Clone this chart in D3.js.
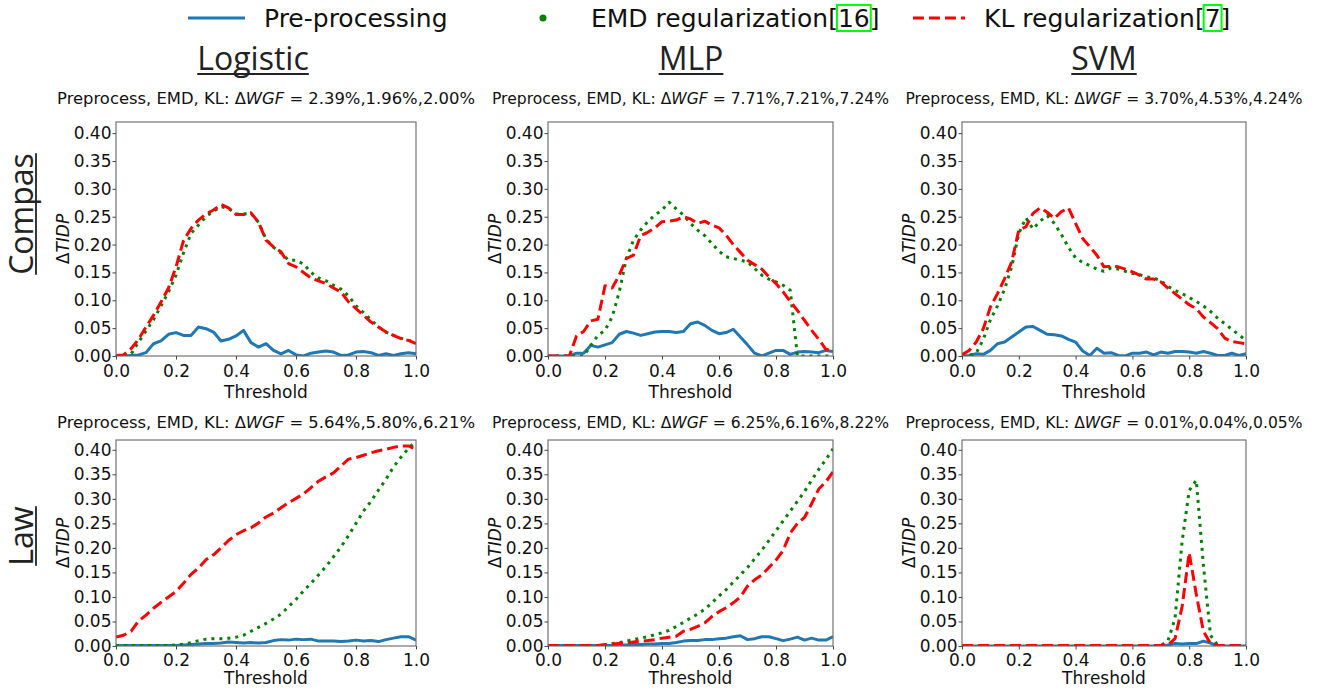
<!DOCTYPE html>
<html><head><meta charset="utf-8">
<script src="https://cdn.jsdelivr.net/npm/d3@7"></script>
<style>body{margin:0;background:#fff;} svg{display:block;}</style>
</head><body><svg id="c" width="1325" height="690"></svg>
<script>
// ---------- data ----------
const thresholds = [0,0.025,0.05,0.075,0.1,0.125,0.15,0.175,0.2,0.225,0.25,0.275,0.3,0.325,0.35,0.375,0.4,0.425,0.45,0.475,0.5,0.525,0.55,0.575,0.6,0.625,0.65,0.675,0.7,0.725,0.75,0.775,0.8,0.825,0.85,0.875,0.9,0.925,0.95,0.975,1.0];
const xTickValues = [0,0.2,0.4,0.6,0.8,1.0];
const yTickValues = [0,0.05,0.10,0.15,0.20,0.25,0.30,0.35,0.40];
const models = ["Logistic","MLP","SVM"];
const datasets = ["Compas","Law"];
const seriesNames = ["Pre-processing","EMD regularization","KL regularization"];
const seriesRefs = ["","16","7"];
const wgfCompas = ["2.39%,1.96%,2.00%","7.71%,7.21%,7.24%","3.70%,4.53%,4.24%"];
const wgfLaw = ["5.64%,5.80%,6.21%","6.25%,6.16%,8.22%","0.01%,0.04%,0.05%"];

const compasLogisticPre = [0,0,0.001,0.002,0.006,0.022,0.027,0.039,0.042,0.037,0.037,0.052,0.049,0.043,0.027,0.030,0.036,0.046,0.024,0.016,0.022,0.010,0.004,0.010,0.002,0.000,0.005,0.007,0.009,0.007,0.001,0.002,0.007,0.008,0.006,0.001,0.004,0.001,0.004,0.006,0.004];
const compasLogisticEMD = [0,0,0.003,0.025,0.045,0.065,0.090,0.115,0.145,0.185,0.220,0.235,0.250,0.260,0.268,0.265,0.255,0.255,0.256,0.240,0.210,0.195,0.185,0.172,0.172,0.165,0.150,0.140,0.135,0.127,0.120,0.108,0.090,0.078,0.065,0.052,0.043,0.037,0.032,0.028,0.025];
const compasLogisticKL = [0.001,0.002,0.013,0.030,0.052,0.073,0.097,0.122,0.160,0.207,0.229,0.244,0.255,0.262,0.272,0.266,0.254,0.254,0.257,0.240,0.208,0.196,0.187,0.166,0.160,0.150,0.140,0.135,0.130,0.122,0.115,0.097,0.085,0.073,0.061,0.052,0.043,0.037,0.031,0.028,0.022];

const compasMLPPre = [0,0,0,0,0.005,0.005,0.019,0.016,0.020,0.024,0.039,0.044,0.041,0.037,0.040,0.043,0.044,0.044,0.042,0.044,0.058,0.061,0.055,0.046,0.040,0.042,0.048,0.034,0.020,0.005,0.000,0.005,0.010,0.010,0.003,0.007,0.008,0.007,0.006,0.010,0.008];
const compasMLPEMD = [0,0,0,0,0,0,0.019,0.037,0.046,0.070,0.115,0.175,0.208,0.226,0.241,0.253,0.262,0.276,0.264,0.253,0.238,0.226,0.216,0.202,0.188,0.178,0.175,0.172,0.169,0.157,0.145,0.138,0.133,0.127,0.118,0,0,0,0,0,0];
const compasMLPKL = [0,0,0,0,0.036,0.044,0.063,0.066,0.126,0.122,0.145,0.175,0.181,0.216,0.222,0.230,0.241,0.242,0.244,0.250,0.246,0.238,0.242,0.235,0.230,0.217,0.200,0.186,0.172,0.164,0.156,0.142,0.130,0.115,0.098,0.082,0.064,0.046,0.030,0.012,0.010];

const compasSVMPre = [0,0.001,0.004,0.003,0.010,0.022,0.025,0.034,0.043,0.052,0.053,0.046,0.039,0.038,0.036,0.030,0.025,0.009,0.001,0.014,0.005,0.006,0.001,0.000,0.005,0.005,0.007,0.002,0.007,0.005,0.008,0.008,0.007,0.005,0.008,0.005,0.001,0.001,0.005,0.001,0.004];
const compasSVMEMD = [0,0.001,0.005,0.030,0.065,0.090,0.120,0.160,0.220,0.248,0.228,0.242,0.252,0.238,0.218,0.195,0.176,0.168,0.162,0.156,0.152,0.158,0.156,0.152,0.148,0.146,0.142,0.140,0.135,0.125,0.118,0.112,0.105,0.098,0.090,0.080,0.068,0.058,0.048,0.038,0.028];
const compasSVMKL = [0.002,0.010,0.025,0.049,0.088,0.112,0.139,0.169,0.226,0.232,0.256,0.266,0.258,0.247,0.259,0.266,0.238,0.211,0.196,0.181,0.160,0.161,0.160,0.156,0.151,0.145,0.138,0.138,0.133,0.122,0.112,0.102,0.092,0.085,0.070,0.060,0.049,0.032,0.026,0.024,0.022];

const lawLogisticPre = [0.001,0.001,0.001,0.001,0.001,0.001,0.001,0.001,0.001,0.002,0.003,0.004,0.005,0.005,0.006,0.008,0.007,0.006,0.007,0.006,0.007,0.011,0.013,0.012,0.014,0.013,0.014,0.010,0.010,0.010,0.009,0.010,0.012,0.010,0.011,0.009,0.013,0.016,0.019,0.019,0.012];
const lawLogisticEMD = [0.001,0.001,0.001,0.001,0.001,0.001,0.001,0.001,0.002,0.004,0.007,0.011,0.014,0.015,0.015,0.016,0.018,0.022,0.030,0.038,0.046,0.055,0.065,0.080,0.095,0.112,0.128,0.145,0.162,0.182,0.202,0.225,0.250,0.275,0.295,0.318,0.340,0.365,0.385,0.403,0.418];
const lawLogisticKL = [0.018,0.022,0.030,0.051,0.063,0.077,0.089,0.100,0.111,0.128,0.146,0.159,0.176,0.186,0.200,0.215,0.227,0.235,0.241,0.251,0.263,0.271,0.282,0.292,0.301,0.310,0.323,0.336,0.345,0.353,0.367,0.381,0.384,0.389,0.394,0.398,0.401,0.405,0.408,0.408,0.401];

const lawMLPPre = [0.001,0.001,0.001,0.001,0.001,0.001,0.001,0.001,0.001,0.001,0.002,0.002,0.003,0.003,0.004,0.004,0.005,0.005,0.007,0.010,0.011,0.011,0.013,0.013,0.015,0.016,0.019,0.021,0.013,0.015,0.019,0.019,0.015,0.011,0.014,0.018,0.012,0.016,0.012,0.012,0.019];
const lawMLPEMD = [0.001,0.001,0.001,0.001,0.001,0.001,0.001,0.001,0.001,0.005,0.007,0.010,0.013,0.016,0.019,0.023,0.027,0.032,0.040,0.048,0.057,0.065,0.075,0.088,0.102,0.115,0.130,0.145,0.160,0.178,0.195,0.215,0.235,0.255,0.275,0.295,0.315,0.338,0.360,0.380,0.402];
const lawMLPKL = [0.001,0.001,0.001,0.001,0.001,0.001,0.001,0.001,0.003,0.004,0.005,0.006,0.008,0.010,0.011,0.013,0.016,0.018,0.020,0.030,0.034,0.040,0.047,0.060,0.070,0.078,0.088,0.100,0.122,0.135,0.145,0.160,0.175,0.195,0.230,0.250,0.262,0.290,0.320,0.335,0.355];

const lawSVMPre = [0,0,0,0,0,0,0,0,0,0,0,0,0,0,0,0,0,0,0,0,0,0,0,0,0,0,0,0,0,0.002,0.005,0.004,0.005,0.005,0.010,0.006,0,0,0,0,0];
const lawSVMEMD = [0,0,0,0,0,0,0,0,0,0,0,0,0,0,0,0,0,0,0,0,0,0,0,0,0,0,0,0,0.001,0.010,0.056,0.213,0.317,0.338,0.165,0.022,0.002,0,0,0,0];
const lawSVMKL = [0.001,0.001,0.001,0.001,0.001,0.001,0.001,0.001,0.001,0.001,0.001,0.001,0.001,0.001,0.001,0.001,0.001,0.001,0.001,0.001,0.001,0.001,0.001,0.001,0.001,0.001,0.001,0.001,0.001,0.002,0.015,0.080,0.190,0.105,0.030,0.005,0.001,0.001,0.001,0.001,0.001];

const panelData = [
  [[compasLogisticPre,compasLogisticEMD,compasLogisticKL],[compasMLPPre,compasMLPEMD,compasMLPKL],[compasSVMPre,compasSVMEMD,compasSVMKL]],
  [[lawLogisticPre,lawLogisticEMD,lawLogisticKL],[lawMLPPre,lawMLPEMD,lawMLPKL],[lawSVMPre,lawSVMEMD,lawSVMKL]]
];
const wgf = [wgfCompas, wgfLaw];

// ---------- layout / style ----------
const colors = ["#1f77b4","#008000","#ff0000"];
const dashes = [null,"3,5","11,5"];
const widths = [3,3,3];
const FONT = "DejaVu Sans, sans-serif";
const rows = [
  {top:122, bottom:356, tickPad:5.5, xlabY:397.5, titleY:104, labelY:214},
  {top:440, bottom:646, tickPad:4.5, xlabY:684, titleY:428, labelY:536}
];
const cols = [
  {left:116,right:416,titleX:253,hs:1},
  {left:548,right:833,titleX:691,hs:0.95},
  {left:962,right:1246,titleX:1104,hs:0.95}
];

const svg = d3.select("#c");
const defs = svg.append("defs");

rows.forEach((r, ri) => {
  cols.forEach((c, ci) => {
    const x = d3.scaleLinear().domain([0,1]).range([c.left,c.right]);
    const y = d3.scaleLinear().domain([0,0.42]).range([r.bottom,r.top]);
    const g = svg.append("g");
    const cid = "clip"+ri+ci;
    defs.append("clipPath").attr("id",cid).append("rect")
      .attr("x",c.left).attr("y",r.top).attr("width",c.right-c.left).attr("height",r.bottom-r.top);
    const lines = g.append("g").attr("clip-path","url(#"+cid+")");
    panelData[ri][ci].forEach((vals, si) => {
      const line = d3.line().x((d,i)=>x(thresholds[i])).y(d=>y(d));
      lines.append("path").datum(vals).attr("d",line)
        .attr("fill","none").attr("stroke",colors[si]).attr("stroke-width",widths[si])
        .attr("stroke-dasharray",dashes[si]).attr("stroke-linejoin","round");
    });
    g.append("rect").attr("x",c.left).attr("y",r.top).attr("width",c.right-c.left).attr("height",r.bottom-r.top)
      .attr("fill","none").attr("stroke","#666").attr("stroke-width",1.1);
    const xa = g.append("g").attr("transform","translate(0,"+r.bottom+")")
      .call(d3.axisBottom(x).tickValues(xTickValues).tickFormat(d3.format(".1f")).tickSize(3.5).tickPadding(r.tickPad));
    const ya = g.append("g").attr("transform","translate("+c.left+",0)")
      .call(d3.axisLeft(y).tickValues(yTickValues).tickFormat(d3.format(".2f")).tickSize(3.5).tickPadding(1));
    [xa,ya].forEach(a=>{
      a.select(".domain").remove();
      a.selectAll("text").attr("font-family",FONT).attr("font-size",17).attr("fill","#111");
      a.selectAll("line").attr("stroke","#444");
    });
    g.append("text").attr("x",(c.left+c.right)/2).attr("y",r.xlabY).attr("text-anchor","middle")
      .attr("font-family",FONT).attr("font-size",17).attr("fill","#111").text("Threshold");
    const yl = g.append("text").attr("transform","translate("+(c.left-53)+","+((r.top+r.bottom)/2)+") rotate(-90)")
      .attr("text-anchor","middle").attr("dominant-baseline","central")
      .attr("font-family",FONT).attr("font-size",17).attr("fill","#111");
    yl.append("tspan").text("Δ");
    yl.append("tspan").attr("font-style","italic").text("TIDP");
    const t = g.append("text")
      .attr("transform","translate("+((c.left+c.right)/2)+","+r.titleY+") scale("+c.hs+",1)")
      .attr("text-anchor","middle")
      .attr("font-family",FONT).attr("font-size",16.4).attr("fill","#111");
    t.append("tspan").text("Preprocess, EMD, KL: Δ");
    t.append("tspan").attr("font-style","italic").text("WGF");
    t.append("tspan").text(" = "+wgf[ri][ci]);
  });
});

// column titles
const TFONT = "Open Sans, sans-serif";
models.forEach((m,ci)=>{
  const t = svg.append("text").attr("x",cols[ci].titleX).attr("y",70).attr("text-anchor","middle")
    .attr("font-family",TFONT).attr("font-size",32).attr("fill","#222").text(m);
  const w = t.node().getComputedTextLength();
  svg.append("line").attr("x1",cols[ci].titleX-w/2).attr("x2",cols[ci].titleX+w/2)
    .attr("y1",74).attr("y2",74).attr("stroke","#222").attr("stroke-width",1.8);
});
// row labels
datasets.forEach((d,ri)=>{
  const g = svg.append("g").attr("transform","translate(33,"+rows[ri].labelY+") rotate(-90)");
  const t = g.append("text").attr("x",0).attr("y",0).attr("text-anchor","middle")
    .attr("font-family",TFONT).attr("font-size",32).attr("fill","#222").text(d);
  const w = t.node().getComputedTextLength();
  g.append("line").attr("x1",-w/2).attr("x2",w/2).attr("y1",3).attr("y2",3)
    .attr("stroke","#222").attr("stroke-width",1.8);
});

// legend
const legY = 18, legBase = 27;
const leg = svg.append("g");
const legItems = [
  {sx1:188, sx2:245, tx:264},
  {sx1:543, sx2:543, tx:591},
  {sx1:913, sx2:965, tx:984}
];
seriesNames.forEach((name,si)=>{
  const it = legItems[si];
  if (si===1) {
    leg.append("circle").attr("cx",it.sx1).attr("cy",legY).attr("r",3.5).attr("fill",colors[si]);
  } else {
    leg.append("line").attr("x1",it.sx1).attr("x2",it.sx2).attr("y1",legY).attr("y2",legY)
      .attr("stroke",colors[si]).attr("stroke-width",3).attr("stroke-dasharray",dashes[si]);
  }
  let cx = it.tx;
  const part = (s)=>{
    const t = leg.append("text").attr("x",cx).attr("y",legBase).attr("font-family",FONT)
      .attr("font-size",25).attr("fill","#111").text(s);
    const w = t.node().getComputedTextLength();
    const x0 = cx; cx += w; return {x0,w};
  };
  if (seriesRefs[si]) {
    part(name+"[");
    const r = part(seriesRefs[si]);
    leg.append("rect").attr("x",r.x0-1).attr("y",5).attr("width",r.w+2).attr("height",26)
      .attr("fill","none").attr("stroke","#00ff00").attr("stroke-width",2);
    part("]");
  } else {
    part(name);
  }
});
</script></body></html>
